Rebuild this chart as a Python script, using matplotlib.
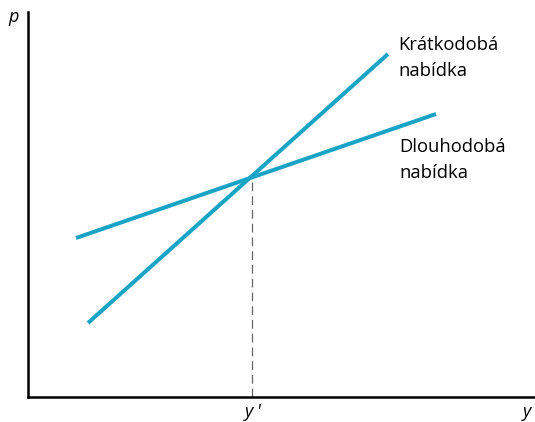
import matplotlib.pyplot as plt

# ── Data (axis units, origin at the corner of the axes) ─────────────────────
short_x = [60, 360]
short_y = [74, 343]
long_x = [48, 408]
long_y = [159, 283]
eq_x = 224
eq_y = 219
short_label = 'Krátkodobá\nnabídka'
long_label = 'Dlouhodobá\nnabídka'

LINE_COLOR = '#19a4c6'
plt.rcParams['font.family'] = ['Open Sans', 'DejaVu Sans']

fig = plt.figure(figsize=(5.35, 4.22), dpi=100)
W, H = 535, 422
ax = fig.add_axes([28 / W, (H - 397) / H, (W - 28) / W, (397 - 12) / H])
ax.set_xlim(0, W - 28)
ax.set_ylim(0, 397 - 12)

ax.plot(short_x, short_y, color=LINE_COLOR, lw=2.9, solid_capstyle='butt')
ax.plot(long_x, long_y, color=LINE_COLOR, lw=2.9, solid_capstyle='butt')
ax.plot([eq_x, eq_x], [0, eq_y], color='#666666', lw=0.9, ls=(0, (7, 4)))

ax.text(370, 339, short_label, fontsize=13.2, va='center', ha='left', linespacing=1.5)
ax.text(371, 237, long_label, fontsize=13.2, va='center', ha='left', linespacing=1.5)

for side in ('top', 'right'):
    ax.spines[side].set_visible(False)
for side in ('left', 'bottom'):
    ax.spines[side].set_linewidth(1.8)
    ax.spines[side].set_color('black')
ax.set_xticks([])
ax.set_yticks([])

fig.text(14 / W, 1 - 17 / H, 'p', fontsize=13, style='italic', ha='center', va='center')
fig.text(253 / W, 1 - 412 / H, "y '", fontsize=13, style='italic', ha='center', va='center')
fig.text(527 / W, 1 - 412 / H, 'y', fontsize=13, style='italic', ha='center', va='center')

fig.savefig('out.png', dpi=100)
